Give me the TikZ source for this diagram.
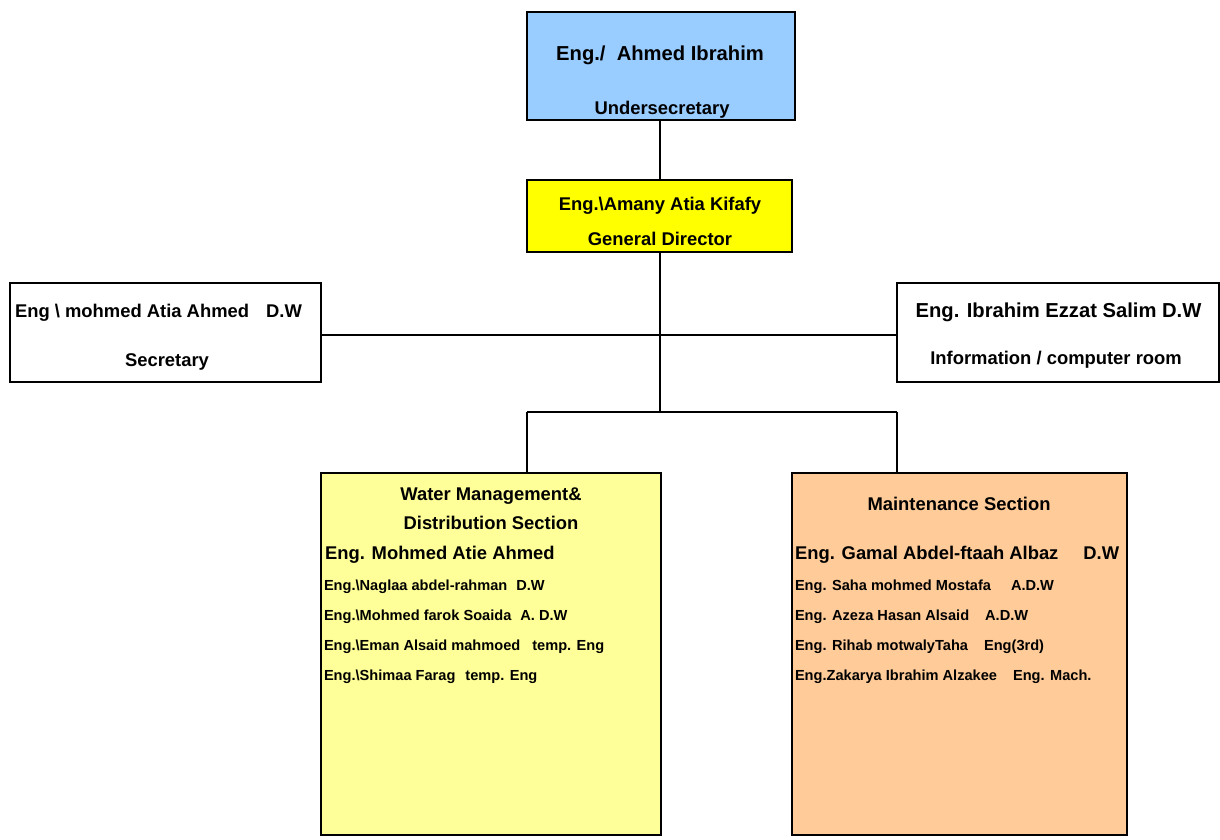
\documentclass[tikz,border=0pt]{standalone}
\usepackage{fontspec}
\setmainfont{Liberation Sans}
\definecolor{topblue}{HTML}{99CCFF}
\definecolor{gdyellow}{HTML}{FFFF00}
\definecolor{wmyellow}{HTML}{FFFF99}
\definecolor{mtorange}{HTML}{FFCC99}
\newcommand{\fbig}{\fontsize{20.2}{24}\selectfont\bfseries}
\newcommand{\fmid}{\fontsize{18.4}{22}\selectfont\bfseries}
\newcommand{\fsmall}{\fontsize{14.6}{18}\selectfont\bfseries}
\begin{document}
\begin{tikzpicture}[x=1pt,y=-1pt,
  box/.style={draw=black, line width=2.8pt, rectangle, inner sep=0pt},
  conn/.style={draw=black, line width=2.8pt},
  lbl/.style={inner sep=0pt, outer sep=0pt, anchor=base},
  lbll/.style={inner sep=0pt, outer sep=0pt, anchor=base west}]
\useasboundingbox (0,0) rectangle (1220,839);
% boxes
\node[box, fill=topblue, minimum width=268pt, minimum height=108pt] (top) at (661,66) {};
\node[box, fill=gdyellow, minimum width=265pt, minimum height=72pt] (gd) at (659.5,216) {};
\node[box, fill=white, minimum width=311pt, minimum height=99pt] (sec) at (165.5,332.5) {};
\node[box, fill=white, minimum width=322pt, minimum height=99pt] (info) at (1058,332.5) {};
\node[box, fill=wmyellow, minimum width=340pt, minimum height=362pt] (wm) at (491,654) {};
\node[box, fill=mtorange, minimum width=335pt, minimum height=362pt] (mt) at (959.5,654) {};
% connectors
\coordinate (jc) at (660,412);
\coordinate (jl) at (527,412);
\coordinate (jr) at (897,412);
\coordinate (hl) at (660,335);
\draw[conn] (top.south -| jc) -- (gd.north -| jc);
\draw[conn] (gd.south -| jc) -- (jc);
\draw[conn] (sec.east |- hl) -- (info.west |- hl);
\draw[conn] (jl) -- (jr);
\draw[conn] (jl) -- (jl |- wm.north);
\draw[conn] (jr) -- (jr |- mt.north);
% top box text
\node[lbl] (t1) at (660,60) {\fbig Eng./\ \ Ahmed Ibrahim};
\node[lbl] (t2) at (662,114) {\fmid Undersecretary};
% general director
\node[lbl] (g1) at (660,210) {\fmid Eng.\textbackslash Amany Atia Kifafy};
\node[lbl] (g2) at (660,245) {\fmid General Director};
% secretary
\node[lbll] (s1) at (15,317) {\fmid Eng \textbackslash\ mohmed Atia Ahmed\hspace{17pt}D.W};
\node[lbl] (s2) at (167,366) {\fmid Secretary};
% info
\node[lbl] (i1) at (1058.5,317) {\fbig Eng. Ibrahim Ezzat Salim D.W};
\node[lbl] (i2) at (1056,364) {\fmid Information / computer room};
% water management
\node[lbl] (w1) at (491,500) {\fmid Water Management\&};
\node[lbl] (w2) at (491,529) {\fmid Distribution Section};
\node[lbll] (w3) at (325,559) {\fmid Eng. Mohmed Atie Ahmed};
\node[lbll] (w4) at (324,590) {\fsmall Eng.\textbackslash Naglaa abdel-rahman\hspace{9pt}D.W};
\node[lbll] (w5) at (324,620) {\fsmall Eng.\textbackslash Mohmed farok Soaida\hspace{9pt}A. D.W};
\node[lbll] (w6) at (324,650) {\fsmall Eng.\textbackslash Eman Alsaid mahmoed\hspace{12pt}temp. Eng};
\node[lbll] (w7) at (324,680) {\fsmall Eng.\textbackslash Shimaa Farag\hspace{10pt}temp. Eng};
% maintenance
\node[lbl] (m1) at (959,510) {\fmid Maintenance Section};
\node[lbll] (m2) at (795,559) {\fmid Eng. Gamal Abdel-ftaah Albaz\hspace{25pt}D.W};
\node[lbll] (m3) at (795,590) {\fsmall Eng. Saha mohmed Mostafa\hspace{20pt}A.D.W};
\node[lbll] (m4) at (795,620) {\fsmall Eng. Azeza Hasan Alsaid\hspace{16pt}A.D.W};
\node[lbll] (m5) at (795,650) {\fsmall Eng. Rihab motwalyTaha\hspace{16pt}Eng(3rd)};
\node[lbll] (m6) at (795,680) {\fsmall Eng.Zakarya Ibrahim Alzakee\hspace{16pt}Eng. Mach.};
\end{tikzpicture}
\end{document}
